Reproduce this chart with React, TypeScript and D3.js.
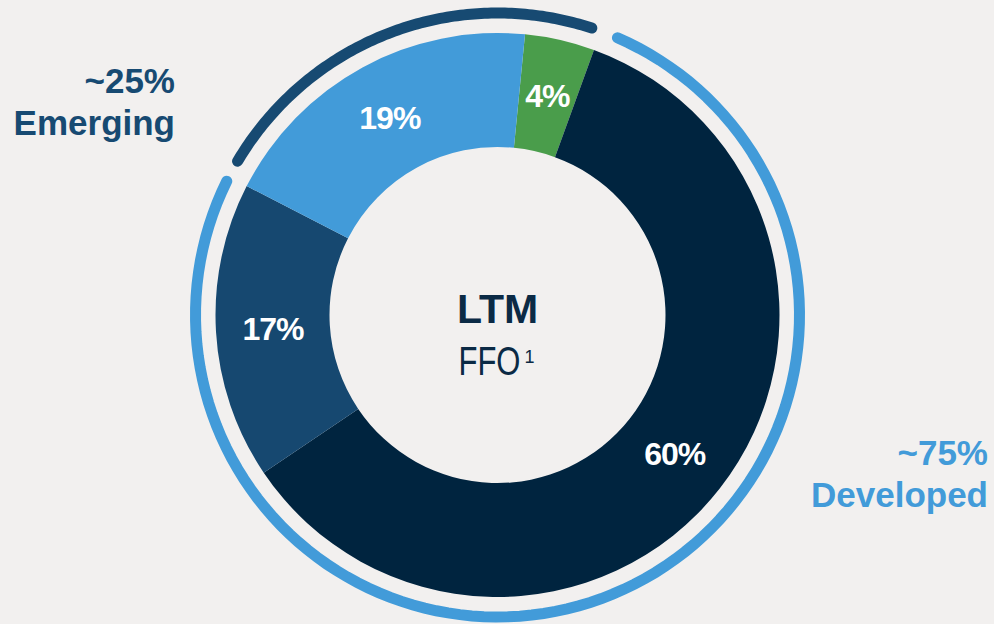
import React, { useEffect, useRef } from "react";
import * as d3 from "d3";

// slices, clockwise, starting just right of 12 o'clock
const sliceLabels = ["4%", "60%", "17%", "19%"];
const sliceValues = [4, 60, 17, 19];
const sliceColors = ["#4a9d4b", "#00243f", "#164870", "#429bd9"];
const sliceStartDeg = 5.6;

// outer group rings (angles in degrees, clockwise from top)
const groupNames = ["Emerging", "Developed"];
const groupShares = ["~25%", "~75%"];
const groupStartDeg = [-59.4, 23.4];
const groupEndDeg = [18.2, 296.3];
const groupColors = ["#174a72", "#429bd9"];

const W = 994;
const H = 624;

const App: React.FC = () => {
  const svgRef = useRef<SVGSVGElement | null>(null);

  useEffect(() => {
    const svg = d3.select(svgRef.current);
    svg.selectAll("*").remove();

    const fontFamily = "'Liberation Sans', Arial, sans-serif";
    const cx = 497.5;
    const cy = 315;
    const outerR = 282;
    const innerR = 168;
    const ringR = 302;
    const ringW = 11;
    const rad = (deg: number) => (deg * Math.PI) / 180;

    // background
    svg
      .append("rect")
      .attr("width", W)
      .attr("height", H)
      .attr("fill", "#f2f0ef");

    const chart = svg
      .append("g")
      .attr("transform", `translate(${cx},${cy})`)
      .style("font-family", fontFamily);

    const pie = d3
      .pie<number>()
      .sort(null)
      .value((d) => d)
      .startAngle(rad(sliceStartDeg))
      .endAngle(rad(sliceStartDeg) + Math.PI * 2);

    const arcs = pie(sliceValues);

    const arc = d3
      .arc<d3.PieArcDatum<number>>()
      .innerRadius(innerR)
      .outerRadius(outerR);

    chart
      .selectAll(".slice")
      .data(arcs)
      .enter()
      .append("path")
      .attr("class", "slice")
      .attr("d", arc)
      .attr("fill", (_d, i) => sliceColors[i]);

    // slice labels at centroids
    chart
      .selectAll(".slice-label")
      .data(arcs)
      .enter()
      .append("text")
      .attr("class", "slice-label")
      .attr("x", (d) => arc.centroid(d)[0])
      .attr("y", (d) => arc.centroid(d)[1])
      .attr("dy", "0.36em")
      .attr("text-anchor", "middle")
      .attr("fill", "white")
      .style("font-size", "32px")
      .style("font-weight", 700)
      .style("letter-spacing", "-1px")
      .text((_d, i) => sliceLabels[i]);

    // outer rings with round caps
    const ringLine = (start: number, end: number) => {
      const pts = d3.range(0, 121).map((k) => {
        const a = rad(start + ((end - start) * k) / 120);
        return [ringR * Math.sin(a), -ringR * Math.cos(a)] as [number, number];
      });
      return d3.line()(pts);
    };

    chart
      .selectAll(".ring")
      .data(groupNames)
      .enter()
      .append("path")
      .attr("class", "ring")
      .attr("d", (_d, i) => ringLine(groupStartDeg[i], groupEndDeg[i]))
      .attr("fill", "none")
      .attr("stroke", (_d, i) => groupColors[i])
      .attr("stroke-width", ringW)
      .attr("stroke-linecap", "round");

    // center text
    chart
      .append("text")
      .attr("x", 0)
      .attr("y", 8)
      .attr("text-anchor", "middle")
      .attr("fill", "#0b2a45")
      .style("font-size", "41px")
      .style("font-weight", 700)
      .text("LTM");

    // FFO is set narrower than the sans regular, so squeeze it horizontally
    chart
      .append("g")
      .attr("transform", "translate(-39,60) scale(0.756,1)")
      .append("text")
      .attr("x", 0)
      .attr("y", 0)
      .attr("fill", "#0b2a45")
      .style("font-size", "41px")
      .style("font-weight", 400)
      .text("FFO");

    chart
      .append("text")
      .attr("x", 27)
      .attr("y", 48)
      .attr("fill", "#0b2a45")
      .style("font-size", "18px")
      .style("font-weight", 400)
      .text("1");

    // group labels
    const groupPos = [
      { x: 175, y: 93 },
      { x: 988, y: 465 },
    ];

    groupNames.forEach((name, i) => {
      const t = svg
        .append("text")
        .attr("text-anchor", "end")
        .attr("fill", groupColors[i])
        .style("font-family", fontFamily)
        .style("font-size", "35px")
        .style("font-weight", 700);
      t.append("tspan")
        .attr("x", groupPos[i].x)
        .attr("y", groupPos[i].y)
        .text(groupShares[i]);
      t.append("tspan")
        .attr("x", groupPos[i].x)
        .attr("y", groupPos[i].y + 42)
        .text(name);
    });
  }, []);

  return (
    <div style={{ position: "absolute", top: 0, left: 0 }}>
      <svg ref={svgRef} width={W} height={H} style={{ display: "block" }}></svg>
    </div>
  );
};

export default App;
